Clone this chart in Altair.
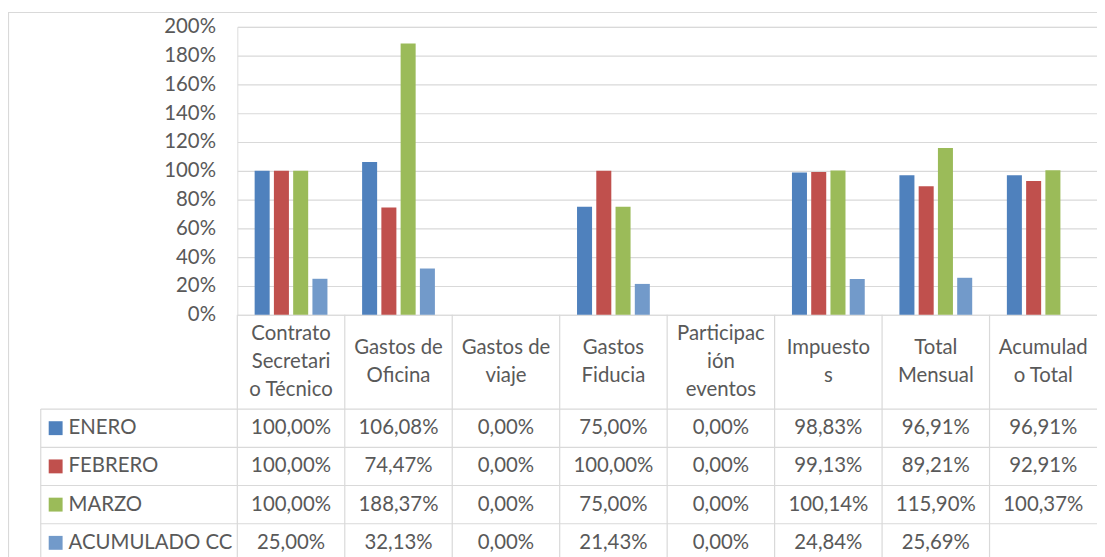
import altair as alt
import pandas as pd

# ---------------- data ----------------
categories = ["Contrato Secretario Técnico", "Gastos de Oficina", "Gastos de viaje",
              "Gastos Fiducia", "Participación eventos", "Impuestos",
              "Total Mensual", "Acumulado Total"]
header_labels = ["Contrato\nSecretari\no Técnico", "Gastos de\nOficina", "Gastos de\nviaje",
                 "Gastos\nFiducia", "Participac\nión\neventos", "Impuesto\ns",
                 "Total\nMensual", "Acumulad\no Total"]
series = ["ENERO", "FEBRERO", "MARZO", "ACUMULADO CC"]
colors = ["#4F81BD", "#C0504D", "#9BBB59", "#729ACA"]

enero = [100.00, 106.08, 0.00, 75.00, 0.00, 98.83, 96.91, 96.91]
febrero = [100.00, 74.47, 0.00, 100.00, 0.00, 99.13, 89.21, 92.91]
marzo = [100.00, 188.37, 0.00, 75.00, 0.00, 100.14, 115.90, 100.37]
acumulado_cc = [25.00, 32.13, 0.00, 21.43, 0.00, 24.84, 25.69, None]

y_ticks = [0, 0.2, 0.4, 0.6, 0.8, 1.0, 1.2, 1.4, 1.6, 1.8, 2.0]

# ---------------- tables ----------------
rows = []
for s, vals in zip(series, [enero, febrero, marzo, acumulado_cc]):
    for c, v in zip(categories, vals):
        if v is None:
            continue
        rows.append({"category": c, "series": s, "value": v / 100.0,
                     "label": f"{v:.2f}".replace(".", ",") + "%"})
df = pd.DataFrame(rows)
df_head = pd.DataFrame({"category": categories, "header": header_labels})
df_series = pd.DataFrame({"series": series})
df_one = pd.DataFrame({"a": [0]})

W, H = 866, 290
GRID = "#D9D9D9"
TXT = "#595959"
FONT = "Lato"
FS = 20.5
LH = 28

x_scale = alt.Scale(domain=categories, paddingInner=0, paddingOuter=0)
row_scale = alt.Scale(domain=series, range=[385, 539], paddingInner=0, paddingOuter=0)
color_scale = alt.Scale(domain=series, range=colors)

xenc = alt.X("category:N", sort=categories, scale=x_scale, axis=None)

bars = alt.Chart(df).mark_bar().encode(
    x=xenc,
    xOffset=alt.XOffset("series:N", sort=series,
                        scale=alt.Scale(domain=series, paddingInner=0.22, paddingOuter=0.9)),
    y=alt.Y("value:Q", scale=alt.Scale(domain=[0, 2], nice=False),
            axis=alt.Axis(values=y_ticks, format=".0%", title=None, domain=False,
                          ticks=False, labelPadding=22, labelFontSize=FS,
                          labelColor=TXT, labelFont=FONT, gridColor=GRID,
                          gridWidth=1.2)),
    color=alt.Color("series:N", scale=color_scale, legend=None),
)

# outer chart border
border = alt.Chart(df_one).mark_rect(fill=None, stroke=GRID, strokeWidth=1.2).encode(
    x=alt.value(-230.5), x2=alt.value(W + 20), y=alt.value(-14.5), y2=alt.value(700)
)

# vertical table lines (category boundaries)
vlines = alt.Chart(df_head).mark_rule(color=GRID, strokeWidth=1.2).encode(
    x=alt.X("category:N", sort=categories, scale=x_scale, axis=None, bandPosition=0),
    y=alt.value(H), y2=alt.value(700),
)
# legend column left line
vleft = alt.Chart(df_one).mark_rule(color=GRID, strokeWidth=1.2).encode(
    x=alt.value(-198), y=alt.value(385), y2=alt.value(700)
)
# horizontal table lines (row tops)
hlines = alt.Chart(df_series).mark_rule(color=GRID, strokeWidth=1.2).encode(
    y=alt.Y("series:N", sort=series, scale=row_scale, axis=None, bandPosition=0),
    x=alt.value(-198), x2=alt.value(W),
)

# header texts, vertically centred in the header row (first line shifted up)
headers = alt.Chart(df_head).transform_calculate(
    hy=f"337.5 - (length(split(datum.header, '\\n')) - 1) * {LH / 2}"
).mark_text(
    font=FONT, fontSize=FS, color=TXT, lineBreak="\n", lineHeight=LH,
    align="center", baseline="middle"
).encode(
    x=xenc, y=alt.Y("hy:Q", scale=None, axis=None), text="header:N"
)

# legend keys and labels
keys = alt.Chart(df_series).mark_square(size=196, opacity=1).encode(
    x=alt.value(-183),
    y=alt.Y("series:N", sort=series, scale=row_scale, axis=None),
    color=alt.Color("series:N", scale=color_scale, legend=None),
)
key_labels = alt.Chart(df_series).mark_text(
    font=FONT, fontSize=FS, color=TXT, align="left", baseline="middle"
).encode(
    x=alt.value(-170),
    y=alt.Y("series:N", sort=series, scale=row_scale, axis=None),
    text="series:N",
)

# value cells
cells = alt.Chart(df).mark_text(
    font=FONT, fontSize=FS, color=TXT, align="center", baseline="middle"
).encode(
    x=xenc,
    y=alt.Y("series:N", sort=series, scale=row_scale, axis=None),
    text="label:N",
)

chart = alt.layer(
    border, bars, vlines, vleft, hlines, headers, keys, key_labels, cells
).resolve_scale(
    y="independent"
).properties(
    width=W, height=H,
    autosize=alt.AutoSizeParams(type="none"),
    padding={"left": 231, "top": 17, "right": 0, "bottom": 242},
).configure_view(stroke=None).configure(font=FONT)

chart.save("out.html", embed_options={"renderer": "svg", "actions": False})
